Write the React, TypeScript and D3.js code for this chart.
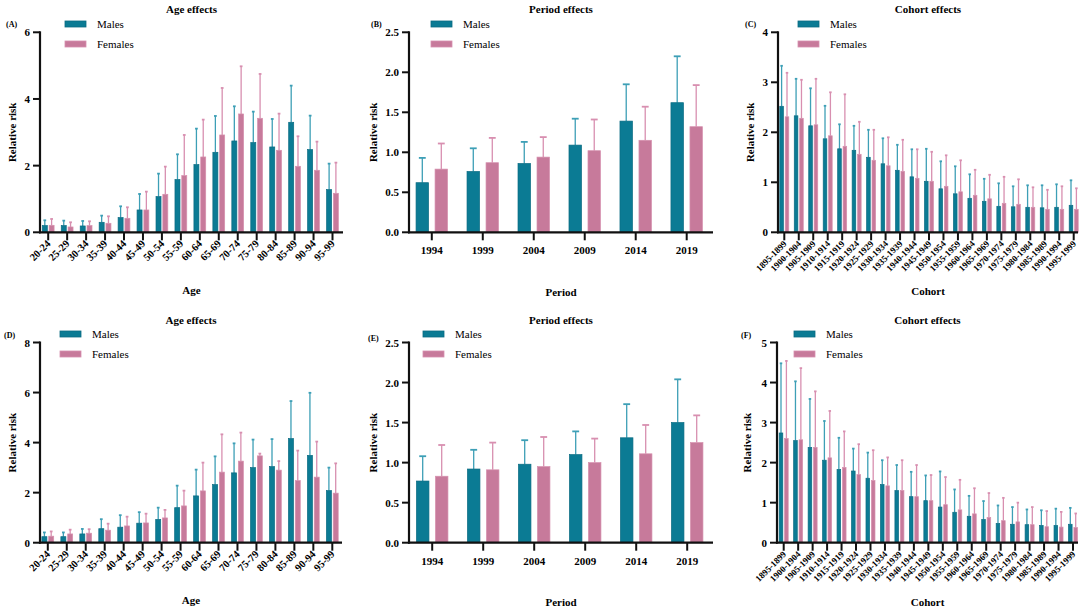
import * as d3 from 'd3';

// ---- categories ----
const ageGroups = ['20-24', '25-29', '30-34', '35-39', '40-44', '45-49', '50-54', '55-59', '60-64', '65-69', '70-74', '75-79', '80-84', '85-89', '90-94', '95-99'];
const periods = ['1994', '1999', '2004', '2009', '2014', '2019'];
const cohorts = ['1895-1899', '1900-1904', '1905-1909', '1910-1914', '1915-1919', '1920-1924', '1925-1929', '1930-1934', '1935-1939', '1940-1944', '1945-1949', '1950-1954', '1955-1959', '1960-1964', '1965-1969', '1970-1974', '1975-1979', '1980-1984', '1985-1989', '1990-1994', '1995-1999'];

// ---- panel A: age effects ----
const ageMaleA = [0.2, 0.2, 0.19, 0.3, 0.44, 0.67, 1.07, 1.58, 2.03, 2.4, 2.74, 2.69, 2.56, 3.3, 2.48, 1.28];
const ageMaleUpA = [0.36, 0.35, 0.34, 0.5, 0.78, 1.15, 1.76, 2.34, 3.11, 3.49, 3.78, 3.62, 3.4, 4.4, 3.5, 2.06];
const ageFemaleA = [0.21, 0.16, 0.2, 0.27, 0.42, 0.67, 1.14, 1.7, 2.26, 2.92, 3.55, 3.42, 2.46, 1.98, 1.86, 1.17];
const ageFemaleUpA = [0.4, 0.3, 0.33, 0.48, 0.75, 1.22, 1.97, 2.92, 3.38, 4.33, 4.98, 4.75, 3.56, 2.88, 2.72, 2.09];

// ---- panel B: period effects ----
const perMaleB = [0.62, 0.76, 0.86, 1.09, 1.39, 1.62];
const perMaleUpB = [0.93, 1.05, 1.13, 1.42, 1.85, 2.2];
const perFemaleB = [0.79, 0.87, 0.94, 1.02, 1.15, 1.32];
const perFemaleUpB = [1.11, 1.18, 1.19, 1.41, 1.57, 1.84];

// ---- panel C: cohort effects ----
const cohMaleC = [2.52, 2.33, 2.13, 1.87, 1.67, 1.64, 1.5, 1.37, 1.24, 1.11, 1.02, 0.87, 0.77, 0.68, 0.62, 0.52, 0.51, 0.5, 0.49, 0.5, 0.54];
const cohMaleUpC = [3.33, 3.07, 2.88, 2.53, 2.16, 2.13, 2.05, 1.88, 1.75, 1.66, 1.67, 1.42, 1.32, 1.16, 1.07, 0.98, 0.92, 0.94, 0.94, 0.96, 1.04];
const cohFemaleC = [2.31, 2.28, 2.15, 1.93, 1.72, 1.56, 1.44, 1.33, 1.22, 1.08, 1.02, 0.92, 0.81, 0.74, 0.67, 0.58, 0.56, 0.5, 0.46, 0.46, 0.46];
const cohFemaleUpC = [3.19, 3.05, 3.07, 2.8, 2.76, 2.21, 2.05, 1.9, 1.85, 1.66, 1.61, 1.54, 1.44, 1.25, 1.15, 1.11, 1.06, 0.9, 0.85, 0.92, 0.88];

// ---- panel D: age effects ----
const ageMaleD = [0.24, 0.24, 0.35, 0.56, 0.62, 0.78, 0.93, 1.4, 1.87, 2.32, 2.79, 3.0, 3.04, 4.16, 3.49, 2.08];
const ageMaleUpD = [0.41, 0.41, 0.55, 0.94, 1.1, 1.22, 1.4, 2.28, 2.92, 3.45, 3.97, 4.12, 4.14, 5.66, 5.99, 3.0];
const ageFemaleD = [0.26, 0.35, 0.38, 0.5, 0.67, 0.79, 0.99, 1.47, 2.07, 2.82, 3.26, 3.47, 2.9, 2.48, 2.62, 1.98];
const ageFemaleUpD = [0.45, 0.52, 0.54, 0.76, 1.04, 1.16, 1.31, 2.08, 3.2, 4.33, 4.4, 3.56, 3.26, 3.68, 4.04, 3.17];

// ---- panel E: period effects ----
const perMaleE = [0.77, 0.92, 0.98, 1.1, 1.31, 1.5];
const perMaleUpE = [1.08, 1.16, 1.28, 1.39, 1.73, 2.04];
const perFemaleE = [0.83, 0.91, 0.95, 1.0, 1.11, 1.25];
const perFemaleUpE = [1.22, 1.25, 1.32, 1.3, 1.47, 1.59];

// ---- panel F: cohort effects ----
const cohMaleF = [2.74, 2.55, 2.38, 2.06, 1.83, 1.79, 1.61, 1.45, 1.3, 1.15, 1.05, 0.89, 0.76, 0.66, 0.58, 0.48, 0.46, 0.45, 0.43, 0.43, 0.46];
const cohMaleUpF = [4.48, 4.03, 3.59, 3.04, 2.62, 2.35, 2.25, 2.06, 1.94, 1.77, 1.68, 1.78, 1.33, 1.17, 1.04, 0.93, 0.89, 0.83, 0.81, 0.85, 0.87];
const cohFemaleF = [2.6, 2.57, 2.38, 2.12, 1.88, 1.7, 1.55, 1.42, 1.3, 1.15, 1.05, 0.95, 0.82, 0.72, 0.63, 0.55, 0.52, 0.45, 0.4, 0.39, 0.38];
const cohFemaleUpF = [4.54, 4.36, 3.78, 3.29, 2.78, 2.46, 2.31, 2.13, 2.06, 1.94, 1.69, 1.64, 1.57, 1.36, 1.24, 1.12, 1.0, 0.89, 0.79, 0.77, 0.73];

const yTicksAgeA = [0, 2, 4, 6];
const yTicksAgeD = [0, 2, 4, 6, 8];
const yTicksPeriod = [0, 0.5, 1.0, 1.5, 2.0, 2.5];
const yTicksCohC = [0, 1, 2, 3, 4];
const yTicksCohF = [0, 1, 2, 3, 4, 5];

const colors = {
  male: '#0b7b94',
  maleEdge: '#0a6b82',
  maleErr: '#3d9fb6',
  female: '#c77a9b',
  femaleEdge: '#d690ae',
  femaleErr: '#d88fb0',
  axis: '#111111',
};

const FONT = '"Liberation Serif", "Times New Roman", serif';

interface PanelProps {
  tag: string;
  title: string;
  xTitle: string;
  cats: string[];
  males: number[];
  malesUp: number[];
  females: number[];
  femalesUp: number[];
  yTicks: number[];
  fmt: (v: number) => string;
  axisX: number;
  axisEnd: number;
  top: number;
  zero: number;
  first: number;
  last: number;
  barW: number;
  gap: number;
  rotate: boolean;
  labelSize: number;
  tagX: number;
  tagY: number;
  legendX: number;
  legendY: number;
  yTitleX: number;
  xTitleY: number;
}

function Panel(p: PanelProps) {
  const y = d3.scaleLinear().domain([0, p.yTicks[p.yTicks.length - 1]]).range([p.zero, p.top]);
  const x = d3.scalePoint<string>().domain(p.cats).range([p.first, p.last]);
  const center = (p.axisX + p.axisEnd) / 2;
  const half = p.gap / 2;
  const series = [
    {vals: p.males, ups: p.malesUp, fill: colors.male, edge: colors.maleEdge, err: colors.maleErr, off: -half - p.barW},
    {vals: p.females, ups: p.femalesUp, fill: colors.female, edge: colors.femaleEdge, err: colors.femaleErr, off: half},
  ];
  const cap = Math.max(2.5, p.barW * 0.55);

  return (
    <g fontFamily={FONT}>
      <text x={center} y={p.top - 19} textAnchor="middle" fontSize={11} fontWeight="bold">{p.title}</text>
      <text x={p.tagX} y={p.tagY} fontSize={8} fontWeight="bold">{p.tag}</text>

      {/* legend */}
      {[
        {name: 'Males', fill: colors.male, edge: colors.maleEdge},
        {name: 'Females', fill: colors.female, edge: colors.femaleEdge},
      ].map((s, i) => (
        <g key={s.name} transform={`translate(${p.legendX},${p.legendY + i * 20})`}>
          <rect x={0} y={-3} width={21} height={6} fill={s.fill} stroke={s.edge} strokeWidth={0.8} />
          <text x={32} y={4} fontSize={11}>{s.name}</text>
        </g>
      ))}

      {/* bars + error bars */}
      {series.map((s, si) => (
        <g key={si}>
          {p.cats.map((c, i) => {
            const bx = (x(c) as number) + s.off;
            const cx = bx + p.barW / 2;
            return (
              <g key={c}>
                <line x1={cx} x2={cx} y1={y(s.vals[i])} y2={y(s.ups[i])} stroke={s.err} strokeWidth={1.3} />
                <line x1={cx - cap / 2} x2={cx + cap / 2} y1={y(s.ups[i])} y2={y(s.ups[i])} stroke={s.err} strokeWidth={1.8} />
                <rect x={bx} y={y(s.vals[i])} width={p.barW} height={p.zero - y(s.vals[i])} fill={s.fill} stroke={s.edge} strokeWidth={0.7} />
              </g>
            );
          })}
        </g>
      ))}

      {/* y axis */}
      <line x1={p.axisX} x2={p.axisX} y1={p.top - 1} y2={p.zero + 1} stroke={colors.axis} strokeWidth={2.2} />
      {p.yTicks.map((t) => (
        <g key={t}>
          <line x1={p.axisX - 7} x2={p.axisX} y1={y(t)} y2={y(t)} stroke={colors.axis} strokeWidth={2} />
          <text x={p.axisX - 10} y={y(t) + 4} textAnchor="end" fontSize={11} fontWeight="bold">{p.fmt(t)}</text>
        </g>
      ))}

      {/* x axis */}
      <line x1={p.axisX - 1} x2={p.axisEnd} y1={p.zero} y2={p.zero} stroke={colors.axis} strokeWidth={2.2} />
      {p.cats.map((c) => {
        const tx = x(c) as number;
        return (
          <g key={c}>
            <line x1={tx} x2={tx} y1={p.zero} y2={p.zero + 8} stroke={colors.axis} strokeWidth={2} />
            {p.rotate ? (
              <text
                transform={`translate(${tx + 3},${p.zero + 12}) rotate(-45)`}
                textAnchor="end"
                fontSize={p.labelSize}
                fontWeight="bold"
              >
                {c}
              </text>
            ) : (
              <text x={tx} y={p.zero + 22} textAnchor="middle" fontSize={11} fontWeight="bold">{c}</text>
            )}
          </g>
        );
      })}

      <text x={center} y={p.xTitleY} textAnchor="middle" fontSize={11} fontWeight="bold">{p.xTitle}</text>
      <text
        transform={`translate(${p.yTitleX},${(p.top + p.zero) / 2}) rotate(-90)`}
        textAnchor="middle"
        fontSize={11}
        fontWeight="bold"
      >
        Relative risk
      </text>
    </g>
  );
}

const intFmt = (v: number) => d3.format('d')(v);
const decFmt = (v: number) => d3.format('.1f')(v);

export default function App() {
  const rowTop = [32.3, 342.5];
  const rowZero = [232.3, 542.7];
  return (
    <svg width={1084} height={610} style={{display: 'block', position: 'absolute', left: 0, top: 0, background: '#fff'}}>
      <Panel tag="(A)" title="Age effects" xTitle="Age" cats={ageGroups}
        males={ageMaleA} malesUp={ageMaleUpA} females={ageFemaleA} femalesUp={ageFemaleUpA}
        yTicks={yTicksAgeA} fmt={intFmt} axisX={40} axisEnd={343} top={rowTop[0]} zero={rowZero[0]}
        first={48.2} last={332.5} barW={5} gap={1.8} rotate labelSize={10.5}
        tagX={6} tagY={27} legendX={65} legendY={24} yTitleX={16} xTitleY={294} />
      <Panel tag="(B)" title="Period effects" xTitle="Period" cats={periods}
        males={perMaleB} malesUp={perMaleUpB} females={perFemaleB} femalesUp={perFemaleUpB}
        yTicks={yTicksPeriod} fmt={decFmt} axisX={409} axisEnd={713} top={rowTop[0]} zero={rowZero[0]}
        first={431.8} last={686.7} barW={12.5} gap={6.5} rotate={false} labelSize={11}
        tagX={371} tagY={27} legendX={431} legendY={24} yTitleX={377} xTitleY={296} />
      <Panel tag="(C)" title="Cohort effects" xTitle="Cohort" cats={cohorts}
        males={cohMaleC} malesUp={cohMaleUpC} females={cohFemaleC} femalesUp={cohFemaleUpC}
        yTicks={yTicksCohC} fmt={intFmt} axisX={778} axisEnd={1078} top={rowTop[0]} zero={rowZero[0]}
        first={784.3} last={1073.7} barW={3.6} gap={1.8} rotate labelSize={9}
        tagX={745} tagY={27} legendX={798} legendY={24} yTitleX={754} xTitleY={295} />

      <Panel tag="(D)" title="Age effects" xTitle="Age" cats={ageGroups}
        males={ageMaleD} malesUp={ageMaleUpD} females={ageFemaleD} femalesUp={ageFemaleUpD}
        yTicks={yTicksAgeD} fmt={intFmt} axisX={40} axisEnd={342} top={rowTop[1]} zero={rowZero[1]}
        first={47.8} last={332.3} barW={5} gap={1.8} rotate labelSize={10.5}
        tagX={4} tagY={338} legendX={60} legendY={334} yTitleX={16} xTitleY={604} />
      <Panel tag="(E)" title="Period effects" xTitle="Period" cats={periods}
        males={perMaleE} malesUp={perMaleUpE} females={perFemaleE} femalesUp={perFemaleUpE}
        yTicks={yTicksPeriod} fmt={decFmt} axisX={409} axisEnd={713} top={rowTop[1]} zero={rowZero[1]}
        first={432.2} last={687.2} barW={12.5} gap={6.5} rotate={false} labelSize={11}
        tagX={368} tagY={341} legendX={423} legendY={334} yTitleX={377} xTitleY={606} />
      <Panel tag="(F)" title="Cohort effects" xTitle="Cohort" cats={cohorts}
        males={cohMaleF} malesUp={cohMaleUpF} females={cohFemaleF} femalesUp={cohFemaleUpF}
        yTicks={yTicksCohF} fmt={intFmt} axisX={777} axisEnd={1078} top={rowTop[1]} zero={rowZero[1]}
        first={783.7} last={1073} barW={3.6} gap={1.8} rotate labelSize={9}
        tagX={741} tagY={338} legendX={794} legendY={334} yTitleX={751} xTitleY={606} />
    </svg>
  );
}
